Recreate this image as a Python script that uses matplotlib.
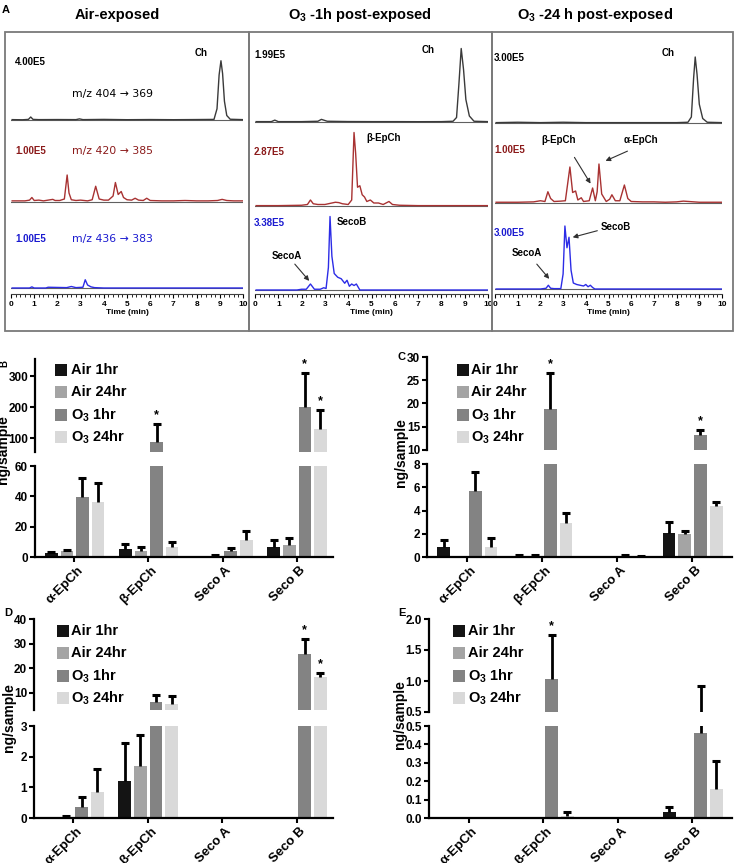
import numpy as np
import matplotlib
matplotlib.use("Agg")
import matplotlib.pyplot as plt
from matplotlib.patches import Rectangle, FancyArrowPatch
from matplotlib.ticker import MultipleLocator, FormatStrFormatter
from matplotlib.transforms import ScaledTranslation

plt.rcParams['font.family'] = ['Liberation Sans', 'DejaVu Sans']
plt.rcParams['mathtext.fontset'] = 'custom'
plt.rcParams['mathtext.rm'] = 'Liberation Sans'
plt.rcParams['mathtext.bf'] = 'Liberation Sans:bold'
plt.rcParams['mathtext.default'] = 'bf'

# ---------------- data: chromatograms (time min, % of full scale) ----------------
air_ch_t = [0.05, 0.5, 0.75, 0.85, 0.95, 1.2, 2.0, 2.8, 2.95, 3.1, 4.0, 5.0, 6.0, 7.0, 8.0,
            8.75, 8.88, 8.97, 9.05, 9.12, 9.2, 9.3, 9.45, 10.0]
air_ch_y = [0.5, 0.3, 0.8, 4.0, 0.8, 0.5, 0.6, 0.5, 1.5, 0.5, 0.8, 0.4, 0.6, 0.4, 0.6,
            0.8, 15, 60, 79, 62, 25, 6, 1, 0.5]
air_ep_t = [0.05, 0.6, 0.8, 0.9, 1.0, 1.2, 1.4, 1.6, 1.8, 1.9, 2.1, 2.3, 2.42, 2.5, 2.6, 2.8,
            3.0, 3.3, 3.5, 3.65, 3.8, 4.0, 4.2, 4.4, 4.5, 4.62, 4.75, 4.85, 5.0, 5.2, 5.35,
            5.5, 5.7, 5.85, 6.0, 6.5, 7.0, 7.5, 8.0, 8.5, 8.9, 9.1, 9.3, 9.6, 10.0]
air_ep_y = [1.5, 1.5, 2.5, 6, 2, 2.5, 1.5, 2.5, 3.5, 2, 2, 4, 36, 12, 3, 2,
            2.5, 1.5, 3, 21, 4, 2.5, 2.5, 8, 26, 10, 14, 6, 3, 2.5, 5,
            2.5, 2, 5, 2, 1.5, 1.5, 2, 1.5, 1.5, 2, 3.5, 2, 1.5, 1.5]
air_se_t = [0.05, 0.8, 0.9, 1.0, 1.5, 1.6, 2.4, 2.6, 2.8, 3.1, 3.2, 3.3, 3.45, 3.6, 4.0, 10.0]
air_se_y = [0, 0, 1.5, 0, 0, 1, 0.5, 2, 0.5, 1, 11, 4, 1.5, 0.5, 0, 0]

o1_ch_t = [0.05, 0.7, 0.85, 1.0, 2.0, 2.7, 2.85, 3.1, 4.0, 5.0, 6.0, 7.0, 8.0, 8.5, 8.65,
           8.75, 8.85, 8.95, 9.05, 9.2, 9.4, 10.0]
o1_ch_y = [0.5, 0.5, 2.5, 0.5, 0.5, 1, 3.5, 1, 0.6, 0.5, 0.5, 0.4, 0.5, 1, 6,
           50, 98, 70, 30, 8, 1, 0.5]
o1_ep_t = [0.05, 1.0, 2.0, 2.25, 2.38, 2.5, 2.7, 3.0, 3.3, 3.45, 3.6, 3.75, 4.0, 4.15, 4.25,
           4.32, 4.4, 4.5, 4.6, 4.7, 4.8, 4.95, 5.1, 5.3, 5.5, 5.75, 5.9, 6.2, 7.0, 8.0, 9.0, 10.0]
o1_ep_y = [0.5, 0.5, 1, 2, 8, 3, 2, 2, 4, 5, 4.5, 3, 2, 8, 98,
           70, 25, 27, 15, 12, 6, 8, 4, 4, 2, 6, 2, 1, 0.5, 0.5, 0.5, 0.5]
o1_se_t = [0.05, 1.8, 2.0, 2.2, 2.38, 2.55, 2.8, 2.95, 3.05, 3.15, 3.22, 3.3, 3.4, 3.55, 3.7,
           3.85, 3.95, 4.05, 4.15, 4.25, 4.35, 4.5, 10.0]
o1_se_y = [0, 0, 1, 1, 8, 1, 1, 3, 2, 30, 98, 45, 22, 17, 15,
           9, 13, 5, 8, 6, 8, 0, 0]

o24_ch_t = [0.05, 1, 2, 3, 4, 5, 6, 7, 8, 8.5, 8.65, 8.75, 8.82, 8.9, 9.0, 9.15, 9.35, 10.0]
o24_ch_y = [0.5, 1, 0.5, 1, 0.5, 0.5, 0.5, 0.5, 0.5, 1, 8, 60, 88, 65, 25, 6, 1, 0.5]
o24_ep_t = [0.05, 1.0, 1.7, 2.0, 2.2, 2.33, 2.45, 2.6, 2.9, 3.1, 3.3, 3.42, 3.55, 3.65, 3.8,
            3.9, 4.15, 4.3, 4.42, 4.5, 4.58, 4.7, 4.9, 5.05, 5.15, 5.3, 5.5, 5.7, 5.85, 6.0,
            6.5, 7.0, 7.5, 8.0, 8.3, 9.0, 10.0]
o24_ep_y = [1, 1, 1.5, 3, 2, 15, 6, 2, 2.5, 3, 48, 14, 16, 4, 7,
            2, 3, 20, 3, 15, 52, 12, 2, 5, 11, 3, 3, 24, 6, 2,
            1.5, 1.5, 1, 1.5, 2.5, 1, 1]
o24_se_t = [0.05, 2.0, 2.25, 2.35, 2.45, 2.6, 2.9, 3.0, 3.08, 3.17, 3.26, 3.35, 3.45, 3.6,
            3.9, 4.0, 4.1, 4.2, 4.3, 4.4, 10.0]
o24_se_y = [0, 0, 1, 5, 1, 0.5, 0.5, 20, 84, 55, 69, 25, 8, 6,
            4, 6, 3, 5, 2, 0, 0]

# ---------------- data: bar panels ----------------
categories = ['α-EpCh', 'β-EpCh', 'Seco A', 'Seco B']
series = ['Air 1hr', 'Air 24hr', 'O$_3$ 1hr', 'O$_3$ 24hr']

B_mean = [[2.5, 5.5, 0, 6.9], [3.7, 4.0, 0.5, 7.9], [39.5, 88, 4.0, 200], [36, 6.6, 11.2, 129]]
B_sem = [[0.6, 3.1, 0, 4.3], [0.8, 2.7, 0.8, 4.6], [12.5, 57, 2.0, 110], [12.5, 3.4, 5.8, 61]]
B_star = [(1, 2), (3, 2), (3, 3)]

C_mean = [[0.83, 0.12, 0, 2.05], [0, 0.1, 0, 2.0], [5.7, 18.8, 0.08, 13.2], [0.9, 2.9, 0.05, 4.4]]
C_sem = [[0.67, 0.06, 0, 0.95], [0, 0.05, 0, 0.25], [1.6, 7.8, 0.07, 1.1], [0.7, 0.9, 0.05, 0.37]]
C_star = [(1, 2), (3, 2)]

D_mean = [[0, 1.22, 0, 0], [0.03, 1.69, 0, 0], [0.37, 6.1, 0, 25.7], [0.86, 5.4, 0, 16.4]]
D_sem = [[0, 1.23, 0, 0], [0.05, 1.01, 0, 0], [0.32, 3.1, 0, 6.0], [0.74, 3.4, 0, 1.8]]
D_star = [(3, 2), (3, 3)]

E_mean = [[0, 0, 0, 0.031], [0, 0, 0, 0], [0, 1.04, 0, 0.46], [0, 0.012, 0, 0.16]]
E_sem = [[0, 0, 0, 0.03], [0, 0, 0, 0], [0, 0.70, 0, 0.46], [0, 0.018, 0, 0.15]]
E_star = [(1, 2)]

# ---------------- layout ----------------
W, H = 735, 863
fig = plt.figure(figsize=(W / 100, H / 100), dpi=100)


def rect(x0, y0, x1, y1):
    return [x0 / W, 1 - y1 / H, (x1 - x0) / W, (y1 - y0) / H]


def ftext(x, y, s, **kw):
    kw.setdefault('ha', 'left')
    kw.setdefault('va', 'center')
    return fig.text(x / W, 1 - y / H, s, **kw)


def farrow(x1, y1, x2, y2):
    fig.add_artist(FancyArrowPatch((x1 / W, 1 - y1 / H), (x2 / W, 1 - y2 / H),
                                   transform=fig.transFigure, arrowstyle='-|>',
                                   mutation_scale=7, color='#303030', lw=0.8))


BLK, RED, BLU = '#3a3a3a', '#a83232', '#2c2ce6'
RED_T, BLU_T = '#8b1a1a', '#1a1ad0'
SCALE = 0.75  # px per % of full scale

# boxes of panel A
for (x0, x1) in [(5, 249), (249, 492), (492, 733)]:
    fig.add_artist(Rectangle((x0 / W, 1 - 331 / H), (x1 - x0) / W, (331 - 32) / H,
                             transform=fig.transFigure, fill=False,
                             edgecolor='#7a7a7a', lw=1.3))


def chrom(x0, x10, traces, offs):
    ax = fig.add_axes(rect(x0, 40, x10, 294))
    ax.patch.set_alpha(0)
    ax.set_xlim(0, 10)
    ax.set_ylim(0, 254)
    for (t, y, c), off in zip(traces, offs):
        ax.plot([0, 10], [off, off], color='#606060', lw=0.8)
        ax.plot(t, np.array(y) * SCALE + off, color=c, lw=1.0)
    for s in ['left', 'right', 'top']:
        ax.spines[s].set_visible(False)
    ax.spines['bottom'].set_color('#404040')
    ax.spines['bottom'].set_linewidth(0.8)
    ax.set_yticks([])
    ax.xaxis.set_major_locator(MultipleLocator(1))
    ax.xaxis.set_minor_locator(MultipleLocator(0.2))
    ax.tick_params(axis='x', which='major', length=3, width=0.8, pad=2, labelsize=6)
    ax.tick_params(axis='x', which='minor', length=2, width=0.6)
    for lab in ax.get_xticklabels():
        lab.set_fontweight('bold')
    ax.set_xlabel('Time (min)', fontsize=6, fontweight='bold', labelpad=1)
    return ax


chrom(11, 243, [(air_ch_t, air_ch_y, BLK), (air_ep_t, air_ep_y, RED), (air_se_t, air_se_y, BLU)],
      [174, 92, 6])
chrom(255, 488, [(o1_ch_t, o1_ch_y, BLK), (o1_ep_t, o1_ep_y, RED), (o1_se_t, o1_se_y, BLU)],
      [172, 88, 4])
chrom(495, 722, [(o24_ch_t, o24_ch_y, BLK), (o24_ep_t, o24_ep_y, RED), (o24_se_t, o24_se_y, BLU)],
      [171, 91, 5])

# panel A texts
ftext(2, 10, 'A', fontsize=8, fontweight='bold')
ftext(117, 15, 'Air-exposed', fontsize=10.5, fontweight='bold', ha='center')
ftext(360, 15, 'O$_3$ -1h post-exposed', fontsize=10.5, fontweight='bold', ha='center')
ftext(595, 15, 'O$_3$ -24 h post-exposed', fontsize=10.5, fontweight='bold', ha='center')

MZ = dict(fontsize=7.8, family=['DejaVu Sans'])
ftext(15, 62, '4.00E5', fontsize=7, fontweight='bold', color='black')
ftext(72, 94, 'm/z 404 → 369', color='black', **MZ)
ftext(195, 53, 'Ch', fontsize=7, fontweight='bold')
ftext(15, 151, '1.00E5', fontsize=7, fontweight='bold', color=RED_T)
ftext(72, 151, 'm/z 420 → 385', color=RED_T, **MZ)
ftext(15, 239, '1.00E5', fontsize=7, fontweight='bold', color=BLU_T)
ftext(72, 239, 'm/z 436 → 383', color=BLU_T, **MZ)

ftext(254, 55, '1.99E5', fontsize=7, fontweight='bold', color='black')
ftext(422, 50, 'Ch', fontsize=7, fontweight='bold')
ftext(254, 152, '2.87E5', fontsize=7, fontweight='bold', color=RED_T)
ftext(366, 138, 'β-EpCh', fontsize=7, fontweight='bold')
ftext(254, 223, '3.38E5', fontsize=7, fontweight='bold', color=BLU_T)
ftext(337, 222, 'SecoB', fontsize=7, fontweight='bold')
ftext(272, 256, 'SecoA', fontsize=7, fontweight='bold')
farrow(293, 262, 311, 283)

ftext(494, 58, '3.00E5', fontsize=7, fontweight='bold', color='black')
ftext(662, 53, 'Ch', fontsize=7, fontweight='bold')
ftext(494, 150, '1.00E5', fontsize=7, fontweight='bold', color=RED_T)
ftext(541, 140, 'β-EpCh', fontsize=7, fontweight='bold')
farrow(573, 155, 592, 186)
ftext(624, 140, 'α-EpCh', fontsize=7, fontweight='bold')
farrow(630, 150, 603, 162)
ftext(494, 233, '3.00E5', fontsize=7, fontweight='bold', color=BLU_T)
ftext(601, 227, 'SecoB', fontsize=7, fontweight='bold')
farrow(600, 230, 570, 238)
ftext(512, 253, 'SecoA', fontsize=7, fontweight='bold')
farrow(535, 262, 551, 281)

# ---------------- bar panels ----------------
COLORS = ['#141414', '#a4a4a4', '#838383', '#d9d9d9']
OFFS = [-0.31, -0.10, 0.11, 0.32]
BW = 0.17


def bar_panel(xl, xr, up, lo, up_lim, lo_lim, up_ticks, lo_ticks, fmt, means, sems, stars, xlim):
    axu = fig.add_axes(rect(xl, up[0], xr, up[1]))
    axl = fig.add_axes(rect(xl, lo[0], xr, lo[1]))
    axu.set_ylim(*up_lim)
    axl.set_ylim(*lo_lim)
    xg = np.arange(1, len(categories) + 1)
    for ax in (axu, axl):
        ymin, ymax = ax.get_ylim()
        ax.patch.set_alpha(0)
        for i in range(4):
            xs = xg + OFFS[i]
            ax.bar(xs, means[i], width=BW, color=COLORS[i], zorder=2)
            for x, m, s in zip(xs, means[i], sems[i]):
                if s > 0:
                    ax.plot([x, x], [m, m + s], color='black', lw=2, zorder=3,
                            solid_capstyle='butt')
                    if ymin <= m + s <= ymax:
                        ax.plot([x], [m + s], marker='_', ms=5.5, mew=2.2, color='black',
                                zorder=3)
        ax.set_xlim(*xlim)
        for s in ['right', 'top']:
            ax.spines[s].set_visible(False)
        ax.spines['left'].set_linewidth(1.6)
        ax.spines['bottom'].set_linewidth(1.6)
        ax.tick_params(axis='both', width=1.5, length=3.5, labelsize=8.5, pad=1.5)
    axu.spines['bottom'].set_visible(False)
    axu.set_xticks([])
    axu.set_yticks(up_ticks)
    axl.set_yticks(lo_ticks)
    axu.yaxis.set_major_formatter(FormatStrFormatter(fmt))
    axl.yaxis.set_major_formatter(FormatStrFormatter(fmt))
    axl.set_xticks(xg)
    axl.set_xticklabels(categories, rotation=45, ha='right', va='top',
                        rotation_mode='anchor', fontsize=9.5, fontweight='bold')
    shift = ScaledTranslation(2 / 72, 0, fig.dpi_scale_trans)
    for lab in axl.get_xticklabels():
        lab.set_transform(lab.get_transform() + shift)
    for ax in (axu, axl):
        for lab in ax.get_yticklabels():
            lab.set_fontweight('bold')
    for (ci, si) in stars:
        top = means[si][ci] + sems[si][ci]
        ax = axu if top > lo_lim[1] else axl
        ax.annotate('*', (xg[ci] + OFFS[si], top), xytext=(0, 2), textcoords='offset points',
                    ha='center', va='bottom', fontsize=9, fontweight='bold', zorder=4)
    return axu, axl


def legend(xsq, ytops, xt):
    for i, (c, lab) in enumerate(zip(COLORS, series)):
        y = ytops[i]
        fig.add_artist(Rectangle((xsq / W, 1 - (y + 6) / H), 12 / W, 12 / H,
                                 transform=fig.transFigure, facecolor=c, edgecolor='none'))
        ftext(xt, y, lab, fontsize=10.5, fontweight='bold')


bar_panel(35, 333, (359, 452), (466, 557), (55, 355), (0, 60), [100, 200, 300], [0, 20, 40, 60],
          '%d', B_mean, B_sem, B_star, (0.47, 4.49))
bar_panel(427, 732, (357, 450), (464, 557), (10, 30), (0, 8), [10, 15, 20, 25, 30], [0, 2, 4, 6, 8],
          '%d', C_mean, C_sem, C_star, (0.467, 4.53))
bar_panel(34, 333, (619, 710), (726, 818), (3, 40), (0, 3), [10, 20, 30, 40], [0, 1, 2, 3],
          '%d', D_mean, D_sem, D_star, (0.47, 4.49))
bar_panel(429, 732, (619, 712), (726, 818), (0.5, 2.0), (0, 0.5), [0.5, 1.0, 1.5, 2.0],
          [0.0, 0.1, 0.2, 0.3, 0.4, 0.5], '%.1f', E_mean, E_sem, E_star, (0.467, 4.53))

legend(55, [370, 392, 415, 437], 71)
legend(457, [370, 392, 415, 437], 471)
legend(57, [631, 653, 676, 698], 71)
legend(453, [631, 653, 676, 698], 468)

for (x, y, lab) in [(3, 450, 'ng/sample'), (401, 453, 'ng/sample'), (9, 718, 'ng/sample'),
                    (400, 715, 'ng/sample')]:
    ftext(x, y, lab, fontsize=10, fontweight='bold', rotation=90, ha='center')

ftext(4, 363, 'B', fontsize=7, fontweight='bold', rotation=90, ha='center')
ftext(398, 357, 'C', fontsize=8, fontweight='bold')
ftext(4, 613, 'D', fontsize=8, fontweight='bold')
ftext(398, 613, 'E', fontsize=8, fontweight='bold')

fig.savefig('out.png', dpi=100)
